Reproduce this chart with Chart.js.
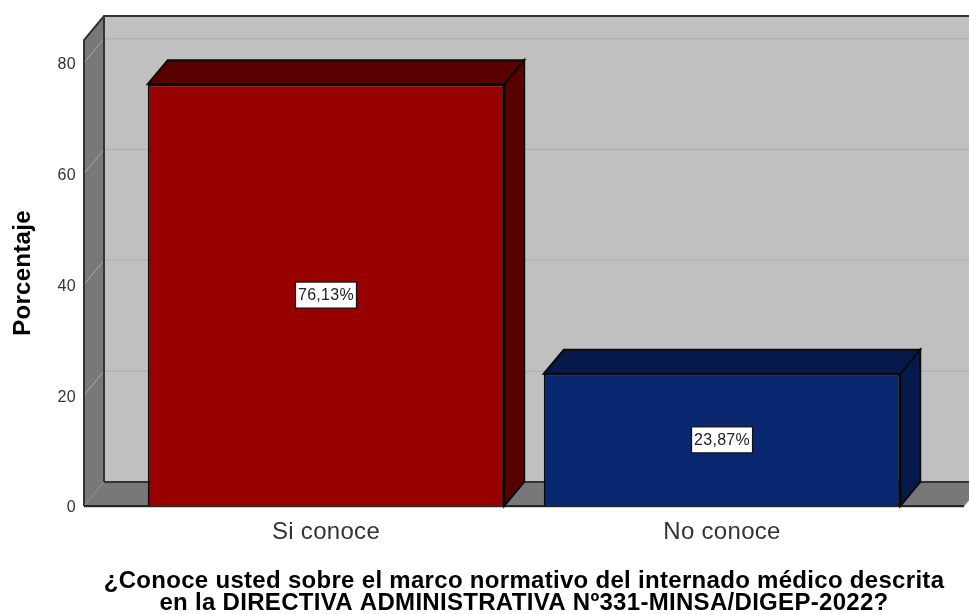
<!DOCTYPE html>
<html>
<head>
<meta charset="utf-8">
<style>
  html, body { margin: 0; padding: 0; background: #fff; overflow: hidden; }
  canvas { display: block; }
</style>
<script src="https://cdn.jsdelivr.net/npm/chart.js@4"></script>
</head>
<body>
<canvas id="chart" width="969" height="614"></canvas>
<script>
const categories = ['Si conoce', 'No conoce'];
const values = [76.13, 23.87];
const valueLabels = ['76,13%', '23,87%'];
const yTicks = [0, 20, 40, 60, 80];
const xTitle = [
  '¿Conoce usted sobre el marco normativo del internado médico descrita',
  'en la DIRECTIVA ADMINISTRATIVA Nº331-MINSA/DIGEP-2022?'
];
const yTitle = 'Porcentaje';

const frontColors = ['#990000', '#0a2872'];
const darkColors = ['#590000', '#051a4a'];

const DX = 20;
const DY = 24;

function poly(ctx, pts, fill, stroke, lw) {
  ctx.beginPath();
  pts.forEach((p, i) => i ? ctx.lineTo(p[0], p[1]) : ctx.moveTo(p[0], p[1]));
  ctx.closePath();
  if (fill) { ctx.fillStyle = fill; ctx.fill(); }
  if (stroke) { ctx.strokeStyle = stroke; ctx.lineWidth = lw || 1; ctx.stroke(); }
}

// walls, floor and the depth faces of the bars
const box3d = {
  id: 'box3d',
  beforeDraw(chart) {
    // reference text is slightly stretched
    chart.ctx.letterSpacing = '0.3px';
  },
  beforeDatasetsDraw(chart) {
    const { ctx, chartArea: a, scales: { y } } = chart;
    ctx.save();
    poly(ctx, [[a.left + DX, a.top - DY], [a.right + DX, a.top - DY], [a.right + DX, a.bottom - DY], [a.left + DX, a.bottom - DY]], '#c0c0c0');
    poly(ctx, [[a.left, a.top], [a.left + DX, a.top - DY], [a.left + DX, a.bottom - DY], [a.left, a.bottom]], '#787878');
    poly(ctx, [[a.left, a.bottom], [a.left + DX, a.bottom - DY], [a.right + DX, a.bottom - DY], [a.right, a.bottom]], '#787878');

    yTicks.slice(1).forEach(t => {
      const py = y.getPixelForValue(t);
      ctx.strokeStyle = '#b2b2b2';
      ctx.lineWidth = 1.5;
      ctx.beginPath();
      ctx.moveTo(a.left + DX, py - DY);
      ctx.lineTo(a.right + DX, py - DY);
      ctx.stroke();
      ctx.strokeStyle = '#a8a8a8';
      ctx.lineWidth = 1;
      ctx.beginPath();
      ctx.moveTo(a.left, py);
      ctx.lineTo(a.left + DX, py - DY);
      ctx.stroke();
    });

    ctx.strokeStyle = '#333';
    ctx.lineWidth = 2;
    ctx.beginPath();
    ctx.moveTo(a.left, a.bottom);
    ctx.lineTo(a.left, a.top);
    ctx.lineTo(a.left + DX, a.top - DY);
    ctx.lineTo(a.right + DX, a.top - DY);
    ctx.moveTo(a.left + DX, a.top - DY);
    ctx.lineTo(a.left + DX, a.bottom - DY);
    ctx.lineTo(a.right + DX, a.bottom - DY);
    ctx.stroke();

    ctx.strokeStyle = '#8c8c8c';
    ctx.lineWidth = 1;
    ctx.beginPath();
    ctx.moveTo(a.left, a.bottom);
    ctx.lineTo(a.left + DX, a.bottom - DY);
    ctx.moveTo(a.right, a.bottom);
    ctx.lineTo(a.right + DX, a.bottom - DY);
    ctx.stroke();

    ctx.strokeStyle = '#262626';
    ctx.lineWidth = 2;
    ctx.beginPath();
    ctx.moveTo(a.left, a.bottom);
    ctx.lineTo(a.right, a.bottom);
    ctx.stroke();
    ctx.strokeStyle = '#d0d0d0';
    ctx.lineWidth = 1;
    ctx.beginPath();
    ctx.moveTo(a.left, a.bottom + 1.5);
    ctx.lineTo(a.right, a.bottom + 1.5);
    ctx.stroke();

    chart.getDatasetMeta(0).data.forEach((bar, i) => {
      const l = bar.x - bar.width / 2;
      const r = bar.x + bar.width / 2;
      const t = bar.y;
      const b = bar.base;
      poly(ctx, [[r, t], [r + DX, t - DY], [r + DX, b - DY], [r, b]], darkColors[i], '#0a0a0a', 2);
      poly(ctx, [[l, t], [l + DX, t - DY], [r + DX, t - DY], [r, t]], darkColors[i], '#0a0a0a', 2);
    });
    ctx.restore();
  }
};

const valueBoxes = {
  id: 'valueBoxes',
  afterDatasetsDraw(chart) {
    const { ctx } = chart;
    ctx.save();
    ctx.font = '16px "Liberation Sans", Arial, sans-serif';
    ctx.letterSpacing = '0.3px';
    ctx.textAlign = 'center';
    ctx.textBaseline = 'middle';
    chart.getDatasetMeta(0).data.forEach((bar, i) => {
      const cy = (bar.y + bar.base) / 2;
      const w = 61;
      const h = 26;
      ctx.fillStyle = '#fff';
      ctx.fillRect(bar.x - w / 2, cy - h / 2, w, h);
      ctx.strokeStyle = '#111';
      ctx.lineWidth = 1.2;
      ctx.strokeRect(bar.x - w / 2, cy - h / 2, w, h);
      ctx.fillStyle = '#222';
      ctx.fillText(valueLabels[i], bar.x, cy + 1);
    });
    ctx.restore();
  }
};

new Chart(document.getElementById('chart'), {
  type: 'bar',
  data: {
    datasets: [{
      data: values.map((v, i) => ({ x: i, y: v })),
      backgroundColor: frontColors,
      borderColor: '#0a0a0a',
      borderWidth: 2,
      barPercentage: 0.9,
      categoryPercentage: 1
    }]
  },
  options: {
    responsive: false,
    animation: false,
    layout: { padding: { top: 40, right: 5, left: 0, bottom: 0 } },
    plugins: { legend: { display: false }, tooltip: { enabled: false } },
    scales: {
      x: {
        type: 'linear',
        offset: false,
        min: -0.611,
        max: 1.611,
        afterBuildTicks(scale) { scale.ticks = categories.map((c, i) => ({ value: i })); },
        afterFit(scale) { scale.height = 108; },
        grid: { display: false, drawTicks: false },
        border: { display: false },
        ticks: {
          callback: v => categories[v],
          color: '#333',
          font: { family: '"Liberation Sans", Arial, sans-serif', size: 24 },
          padding: 12,
          maxRotation: 0,
          autoSkip: false
        },
        title: {
          display: true,
          text: xTitle,
          color: '#000',
          font: { family: '"Liberation Sans", Arial, sans-serif', size: 24, weight: 'bold', lineHeight: 0.92 },
          padding: { top: 20, bottom: 0 }
        }
      },
      y: {
        min: 0,
        max: 84.1,
        afterFit(scale) { scale.width = 84; },
        grid: { display: false, drawTicks: false },
        border: { display: false },
        ticks: {
          stepSize: 20,
          includeBounds: false,
          color: '#333',
          font: { family: '"Liberation Sans", Arial, sans-serif', size: 16 },
          padding: 8,
          labelOffset: 2
        },
        title: {
          display: true,
          text: yTitle,
          color: '#000',
          font: { family: '"Liberation Sans", Arial, sans-serif', size: 24, weight: 'bold' },
          padding: { top: 9, bottom: 0 }
        }
      }
    }
  },
  plugins: [box3d, valueBoxes]
});
</script>
</body>
</html>
